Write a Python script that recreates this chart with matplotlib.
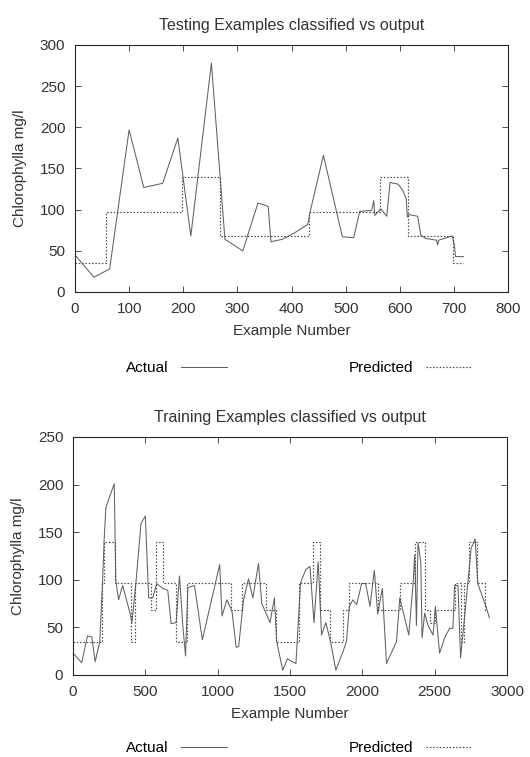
import numpy as np
import matplotlib
matplotlib.use("Agg")
import matplotlib.pyplot as plt

plt.rcParams['font.family'] = ['Liberation Sans', 'DejaVu Sans']

# testing set: actual values (polyline) and predicted class levels (steps)
test_x = [0, 35, 64, 100, 127, 162, 190, 214, 252, 277, 310, 338, 357, 362, 383, 406, 430, 435,
          459, 494, 515, 526, 548, 552, 554, 565, 576, 582, 597, 606, 612, 614, 617, 633, 639,
          648, 668, 670, 672, 697, 701, 703, 718]
test_y = [45, 18, 28, 197, 127, 132, 187, 68, 278, 64, 50, 108, 104, 61, 64, 72, 82, 99,
          166, 67, 66, 98, 99, 111, 93, 101, 92, 133, 131, 123, 113, 91, 94, 92, 69,
          65, 63, 57, 63, 68, 57, 43, 43]
test_pred_edges = [0, 57, 198, 268, 433, 564, 616, 699, 716]
test_pred_levels = [35, 97, 140, 68, 97, 140, 68, 35]

# training set
train_x = [0, 60, 100, 130, 153, 185, 204, 215, 227, 285, 296, 315, 343, 394, 407, 435, 470,
           500, 523, 551, 579, 620, 655, 678, 713, 736, 759, 778, 794, 840, 894, 1014, 1030,
           1064, 1099, 1128, 1145, 1179, 1213, 1243, 1282, 1305, 1362, 1392, 1408, 1450, 1482,
           1541, 1573, 1610, 1638, 1666, 1695, 1718, 1748, 1780, 1817, 1867, 1890, 1910, 1935,
           1961, 1995, 2023, 2053, 2083, 2106, 2138, 2167, 2236, 2259, 2321, 2351, 2362, 2374,
           2385, 2404, 2413, 2431, 2454, 2489, 2505, 2534, 2569, 2603, 2626, 2638, 2661, 2679,
           2729, 2752, 2780, 2798, 2821, 2855, 2878]
train_y = [23, 13, 41, 40, 14, 35, 97, 141, 176, 201, 99, 79, 94, 65, 55, 97, 159,
           167, 81, 81, 96, 91, 89, 54, 55, 104, 52, 20, 92, 94, 37, 116, 62,
           79, 67, 29, 30, 79, 101, 81, 117, 75, 55, 81, 35, 5, 17,
           12, 97, 111, 114, 55, 119, 42, 55, 35, 5, 25, 35, 72, 79,
           74, 96, 96, 72, 110, 64, 91, 12, 35, 81, 42, 96, 126, 52,
           139, 119, 39, 65, 52, 42, 72, 23, 39, 49, 49, 94, 94, 18,
           96, 133, 143, 96, 86, 72, 60]
train_pred_edges = [0, 200, 213, 290, 400, 432, 540, 577, 620, 710, 790, 1090, 1165, 1335,
                    1400, 1565, 1660, 1705, 1775, 1865, 1910, 2110, 2259, 2365, 2431, 2470,
                    2505, 2638, 2680, 2700, 2740, 2790, 2850, 2865]
train_pred_levels = [35, 97, 140, 97, 35, 97, 68, 140, 97, 35, 97, 68, 97, 68,
                     35, 97, 140, 68, 35, 68, 97, 68, 97, 140, 68, 55,
                     68, 97, 35, 97, 140, 97, 68]

txt = '0.2'


def draw(ax, x, y, edges, levels, title, xmax, ymax, xstep, ystep, legend_y):
    ax.plot(x, y, color='0.38', lw=0.75, label='Actual')
    ax.step(edges, levels + [levels[-1]], where='post', color='0.3', lw=0.85,
            linestyle=(0, (1.3, 1.5)), label='Predicted')
    ax.set_xlim(0, xmax)
    ax.set_ylim(0, ymax)
    ax.set_xticks(np.arange(0, xmax + 1, xstep))
    ax.set_yticks(np.arange(0, ymax + 1, ystep))
    ax.tick_params(direction='in', top=True, right=True, length=4, width=0.6,
                   labelsize=11, colors=txt, pad=7)
    for s in ax.spines.values():
        s.set_linewidth(0.8)
        s.set_color('0.15')
    ax.set_title(title, fontsize=11.5, color=txt, pad=11)
    ax.set_xlabel('Example Number', fontsize=11, color=txt, labelpad=6)
    ax.set_ylabel('Chlorophylla mg/l', fontsize=11, color=txt, labelpad=9)
    fig.legend(loc='center', bbox_to_anchor=(299 / 530, legend_y), ncol=2,
               frameon=False, markerfirst=False, fontsize=11, handlelength=3.0,
               columnspacing=8.0, handletextpad=0.8, handles=ax.get_lines())


fig = plt.figure(figsize=(5.3, 7.57), dpi=100)
ax1 = fig.add_axes([75 / 530, 1 - 292 / 757, 433 / 530, 247 / 757])
ax2 = fig.add_axes([73 / 530, 1 - 675 / 757, 434 / 530, 238 / 757])

draw(ax1, test_x, test_y, test_pred_edges, test_pred_levels,
     'Testing Examples classified vs output', 800, 300, 100, 50, 1 - 368 / 757)
draw(ax2, train_x, train_y, train_pred_edges, train_pred_levels,
     'Training Examples classified vs output', 3000, 250, 500, 50, 1 - 748 / 757)

fig.savefig('out.png', dpi=100)
